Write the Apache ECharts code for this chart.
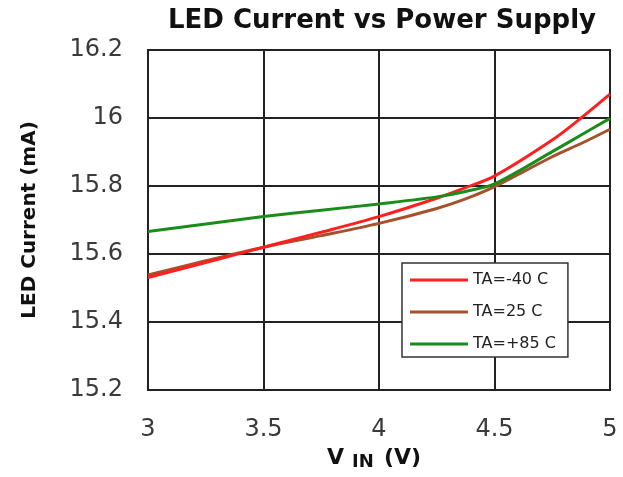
<!DOCTYPE html>
<html>
<head>
<meta charset="utf-8">
<script src="https://cdn.jsdelivr.net/npm/echarts@6/dist/echarts.min.js"></script>
<style>
html,body{margin:0;padding:0;background:#fff;}
#chart{width:623px;height:477px;}
</style>
</head>
<body>
<div id="chart"></div>
<script>
const vin      = [3, 3.25, 3.5, 3.75, 4, 4.25, 4.375, 4.5, 4.75, 4.875, 5];
const taMinus40 = [15.531, 15.575, 15.620, 15.664, 15.710, 15.764, 15.795, 15.829, 15.935, 16.000, 16.070];
const ta25      = [15.538, 15.580, 15.620, 15.654, 15.690, 15.734, 15.762, 15.798, 15.886, 15.925, 15.967];
const taPlus85  = [15.666, 15.688, 15.710, 15.729, 15.747, 15.768, 15.784, 15.806, 15.901, 15.950, 15.999];
const seriesNames = ['TA=-40 C', 'TA=25 C', 'TA=+85 C'];
const yTicks = [15.2, 15.4, 15.6, 15.8, 16, 16.2];
const xTicks = [3, 3.5, 4, 4.5, 5];

const pairs = arr => vin.map((v, i) => [v, arr[i]]);
const colors = ['#ff1f1f', '#a5522c', '#1a8c1a'];
const font = 'DejaVu Sans';

const chart = echarts.init(document.getElementById('chart'), null, {renderer: 'canvas'});
chart.setOption({
  backgroundColor: '#ffffff',
  animation: false,
  title: {
    text: 'LED Current vs Power Supply',
    left: 377, textAlign: 'center', top: 3,
    textStyle: {fontFamily: font, fontWeight: 'bold', fontSize: 26, color: '#111'}
  },
  grid: {left: 148, right: 13, top: 50, bottom: 87, containLabel: false,
         show: true, borderColor: '#222', borderWidth: 2},
  legend: {
    orient: 'vertical', left: 402, top: 263,
    padding: [9, 12, 5, 8],
    itemWidth: 58, itemHeight: 14, itemGap: 16,
    backgroundColor: '#fff', borderColor: '#333', borderWidth: 1.5,
    textStyle: {fontFamily: font, fontSize: 16, color: '#222'},
    data: seriesNames.map((n, i) => ({name: n, icon: 'path://M0,5.5 L58,5.5 L58,8.5 L0,8.5 Z', itemStyle: {color: colors[i]}}))
  },
  xAxis: {
    type: 'value', min: xTicks[0], max: xTicks[xTicks.length - 1], interval: 0.5,
    axisLine: {show: true, lineStyle: {color: '#222', width: 2}},
    axisTick: {show: false},
    splitLine: {show: true, lineStyle: {color: '#222', width: 2}},
    axisLabel: {fontFamily: font, fontSize: 24, color: '#3a3a3a', margin: 28}
  },
  yAxis: {
    type: 'value', min: yTicks[0], max: yTicks[yTicks.length - 1], interval: 0.2,
    name: 'LED Current (mA)', nameLocation: 'middle', nameGap: 108,
    nameTextStyle: {fontFamily: font, fontWeight: 'bold', fontSize: 20, color: '#111'},
    axisLine: {show: true, lineStyle: {color: '#222', width: 2}},
    axisTick: {show: false},
    splitLine: {show: true, lineStyle: {color: '#222', width: 2}},
    axisLabel: {fontFamily: font, fontSize: 24, color: '#3a3a3a', margin: 25}
  },
  graphic: [
    {type: 'text', left: 327, top: 447, style: {text: 'V', font: 'bold 22px "DejaVu Sans"', fill: '#111'}},
    {type: 'text', left: 352, top: 453, style: {text: 'IN', font: 'bold 18px "DejaVu Sans"', fill: '#111'}},
    {type: 'text', left: 384, top: 447, style: {text: '(V)', font: 'bold 22px "DejaVu Sans"', fill: '#111'}}
  ],
  series: [
    {name: seriesNames[0], type: 'line', data: pairs(taMinus40), smooth: 0.3, symbol: 'none',
     lineStyle: {color: colors[0], width: 3}, itemStyle: {color: colors[0]}, z: 3},
    {name: seriesNames[1], type: 'line', data: pairs(ta25), smooth: 0.3, symbol: 'none',
     lineStyle: {color: colors[1], width: 3}, itemStyle: {color: colors[1]}, z: 2},
    {name: seriesNames[2], type: 'line', data: pairs(taPlus85), smooth: 0.3, symbol: 'none',
     lineStyle: {color: colors[2], width: 3}, itemStyle: {color: colors[2]}, z: 4}
  ]
});
</script>
</body>
</html>
